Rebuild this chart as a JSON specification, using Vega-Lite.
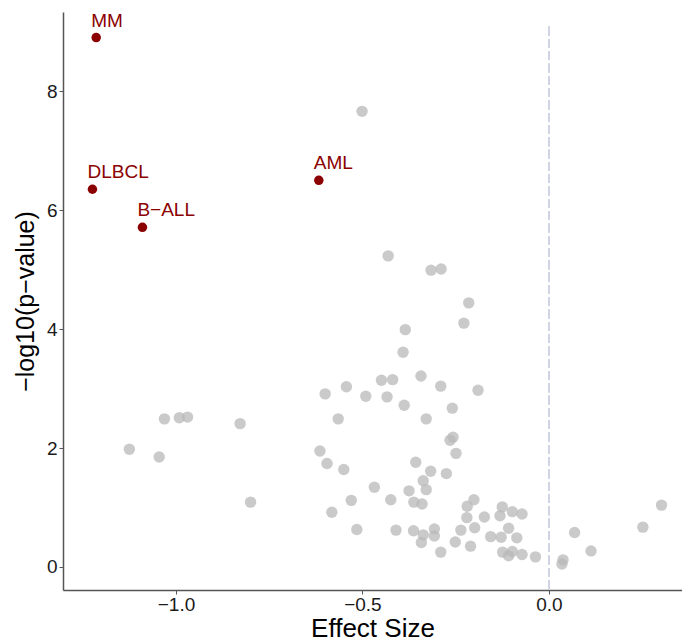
{
  "$schema": "https://vega.github.io/schema/vega-lite/v6.json",
  "width": 619,
  "height": 578,
  "autosize": {"type": "none"},
  "padding": {"left": 63, "top": 12, "right": 0, "bottom": 52},
  "background": "white",
  "config": {
    "view": {"stroke": null},
    "font": "Liberation Sans",
    "axis": {"grid": false}
  },
  "datasets": {
    "pts": [
      {"effect": -1.214, "logp": 8.90, "group": "sig", "label": "MM"},
      {"effect": -1.224, "logp": 6.35, "group": "sig", "label": "DLBCL"},
      {"effect": -1.090, "logp": 5.71, "group": "sig", "label": "B\u2212ALL"},
      {"effect": -0.617, "logp": 6.50, "group": "sig", "label": "AML"},
      {"effect": -1.125, "logp": 1.98, "group": "ns", "label": ""},
      {"effect": -1.045, "logp": 1.85, "group": "ns", "label": ""},
      {"effect": -1.031, "logp": 2.49, "group": "ns", "label": ""},
      {"effect": -0.991, "logp": 2.51, "group": "ns", "label": ""},
      {"effect": -0.969, "logp": 2.52, "group": "ns", "label": ""},
      {"effect": -0.828, "logp": 2.41, "group": "ns", "label": ""},
      {"effect": -0.800, "logp": 1.09, "group": "ns", "label": ""},
      {"effect": -0.501, "logp": 7.66, "group": "ns", "label": ""},
      {"effect": -0.431, "logp": 5.23, "group": "ns", "label": ""},
      {"effect": -0.316, "logp": 4.99, "group": "ns", "label": ""},
      {"effect": -0.289, "logp": 5.01, "group": "ns", "label": ""},
      {"effect": -0.215, "logp": 4.44, "group": "ns", "label": ""},
      {"effect": -0.228, "logp": 4.10, "group": "ns", "label": ""},
      {"effect": -0.385, "logp": 3.99, "group": "ns", "label": ""},
      {"effect": -0.391, "logp": 3.61, "group": "ns", "label": ""},
      {"effect": -0.449, "logp": 3.14, "group": "ns", "label": ""},
      {"effect": -0.419, "logp": 3.15, "group": "ns", "label": ""},
      {"effect": -0.343, "logp": 3.21, "group": "ns", "label": ""},
      {"effect": -0.290, "logp": 3.04, "group": "ns", "label": ""},
      {"effect": -0.190, "logp": 2.97, "group": "ns", "label": ""},
      {"effect": -0.600, "logp": 2.91, "group": "ns", "label": ""},
      {"effect": -0.543, "logp": 3.03, "group": "ns", "label": ""},
      {"effect": -0.491, "logp": 2.87, "group": "ns", "label": ""},
      {"effect": -0.434, "logp": 2.86, "group": "ns", "label": ""},
      {"effect": -0.388, "logp": 2.72, "group": "ns", "label": ""},
      {"effect": -0.259, "logp": 2.67, "group": "ns", "label": ""},
      {"effect": -0.565, "logp": 2.49, "group": "ns", "label": ""},
      {"effect": -0.329, "logp": 2.49, "group": "ns", "label": ""},
      {"effect": -0.257, "logp": 2.18, "group": "ns", "label": ""},
      {"effect": -0.265, "logp": 2.13, "group": "ns", "label": ""},
      {"effect": -0.249, "logp": 1.91, "group": "ns", "label": ""},
      {"effect": -0.614, "logp": 1.95, "group": "ns", "label": ""},
      {"effect": -0.595, "logp": 1.74, "group": "ns", "label": ""},
      {"effect": -0.550, "logp": 1.64, "group": "ns", "label": ""},
      {"effect": -0.357, "logp": 1.76, "group": "ns", "label": ""},
      {"effect": -0.317, "logp": 1.61, "group": "ns", "label": ""},
      {"effect": -0.275, "logp": 1.57, "group": "ns", "label": ""},
      {"effect": -0.337, "logp": 1.45, "group": "ns", "label": ""},
      {"effect": -0.329, "logp": 1.30, "group": "ns", "label": ""},
      {"effect": -0.375, "logp": 1.28, "group": "ns", "label": ""},
      {"effect": -0.468, "logp": 1.34, "group": "ns", "label": ""},
      {"effect": -0.424, "logp": 1.13, "group": "ns", "label": ""},
      {"effect": -0.530, "logp": 1.12, "group": "ns", "label": ""},
      {"effect": -0.362, "logp": 1.09, "group": "ns", "label": ""},
      {"effect": -0.340, "logp": 1.06, "group": "ns", "label": ""},
      {"effect": -0.582, "logp": 0.92, "group": "ns", "label": ""},
      {"effect": -0.515, "logp": 0.63, "group": "ns", "label": ""},
      {"effect": -0.410, "logp": 0.62, "group": "ns", "label": ""},
      {"effect": -0.363, "logp": 0.61, "group": "ns", "label": ""},
      {"effect": -0.337, "logp": 0.54, "group": "ns", "label": ""},
      {"effect": -0.342, "logp": 0.41, "group": "ns", "label": ""},
      {"effect": -0.307, "logp": 0.64, "group": "ns", "label": ""},
      {"effect": -0.307, "logp": 0.52, "group": "ns", "label": ""},
      {"effect": -0.290, "logp": 0.25, "group": "ns", "label": ""},
      {"effect": -0.251, "logp": 0.42, "group": "ns", "label": ""},
      {"effect": -0.210, "logp": 0.35, "group": "ns", "label": ""},
      {"effect": -0.236, "logp": 0.62, "group": "ns", "label": ""},
      {"effect": -0.199, "logp": 0.66, "group": "ns", "label": ""},
      {"effect": -0.220, "logp": 0.83, "group": "ns", "label": ""},
      {"effect": -0.219, "logp": 1.02, "group": "ns", "label": ""},
      {"effect": -0.201, "logp": 1.13, "group": "ns", "label": ""},
      {"effect": -0.173, "logp": 0.84, "group": "ns", "label": ""},
      {"effect": -0.156, "logp": 0.51, "group": "ns", "label": ""},
      {"effect": -0.128, "logp": 0.50, "group": "ns", "label": ""},
      {"effect": -0.108, "logp": 0.65, "group": "ns", "label": ""},
      {"effect": -0.086, "logp": 0.49, "group": "ns", "label": ""},
      {"effect": -0.125, "logp": 1.01, "group": "ns", "label": ""},
      {"effect": -0.131, "logp": 0.86, "group": "ns", "label": ""},
      {"effect": -0.098, "logp": 0.93, "group": "ns", "label": ""},
      {"effect": -0.072, "logp": 0.89, "group": "ns", "label": ""},
      {"effect": -0.124, "logp": 0.25, "group": "ns", "label": ""},
      {"effect": -0.108, "logp": 0.19, "group": "ns", "label": ""},
      {"effect": -0.098, "logp": 0.26, "group": "ns", "label": ""},
      {"effect": -0.072, "logp": 0.21, "group": "ns", "label": ""},
      {"effect": -0.036, "logp": 0.17, "group": "ns", "label": ""},
      {"effect": 0.038, "logp": 0.12, "group": "ns", "label": ""},
      {"effect": 0.035, "logp": 0.05, "group": "ns", "label": ""},
      {"effect": 0.069, "logp": 0.58, "group": "ns", "label": ""},
      {"effect": 0.113, "logp": 0.27, "group": "ns", "label": ""},
      {"effect": 0.252, "logp": 0.67, "group": "ns", "label": ""},
      {"effect": 0.302, "logp": 1.04, "group": "ns", "label": ""}
    ]
  },
  "data": {"name": "pts"},
  "encoding": {
    "x": {
      "field": "effect", "type": "quantitative",
      "scale": {"domain": [-1.303, 0.357], "nice": false, "zero": false},
      "axis": {
        "values": [-1, -0.5, 0], "format": ".1f",
        "title": "Effect Size",
        "titleFontSize": 26, "titleFontWeight": "normal", "titleColor": "#000000",
        "titlePadding": 1,
        "labelFontSize": 19, "labelColor": "#1a1a1a", "labelPadding": 1,
        "domainColor": "#555555", "domainWidth": 1.5,
        "tickColor": "#555555", "tickSize": 4, "tickWidth": 1
      }
    },
    "y": {
      "field": "logp", "type": "quantitative",
      "scale": {"domain": [-0.387, 9.33], "nice": false, "zero": false},
      "axis": {
        "values": [0, 2, 4, 6, 8], "format": "d",
        "title": "\u2212log10(p\u2212value)",
        "titleFontSize": 25, "titleFontWeight": "normal", "titleColor": "#000000",
        "titlePadding": 8,
        "labelFontSize": 19, "labelColor": "#1a1a1a", "labelPadding": 2,
        "domainColor": "#555555", "domainWidth": 1.5,
        "tickColor": "#555555", "tickSize": 4, "tickWidth": 1
      }
    }
  },
  "layer": [
    {
      "mark": {"type": "rule", "color": "#cfd4e4", "strokeWidth": 1, "strokeDash": [8.5, 3.8]},
      "encoding": {
        "x": {"datum": 0, "type": "quantitative"},
        "y": {"datum": 9.08, "type": "quantitative"},
        "y2": {"datum": -0.387}
      }
    },
    {
      "transform": [{"filter": "datum.group === 'ns'"}],
      "mark": {"type": "circle", "size": 130, "color": "#b8b8b8", "opacity": 0.75}
    },
    {
      "transform": [{"filter": "datum.group === 'sig'"}],
      "mark": {"type": "circle", "size": 90, "color": "#8b0000", "opacity": 1}
    },
    {
      "transform": [{"filter": "datum.group === 'sig'"}],
      "mark": {"type": "text", "align": "left", "baseline": "alphabetic", "dx": -5, "dy": -11, "fontSize": 19, "color": "#8b0000"},
      "encoding": {"text": {"field": "label", "type": "nominal"}}
    }
  ]
}
